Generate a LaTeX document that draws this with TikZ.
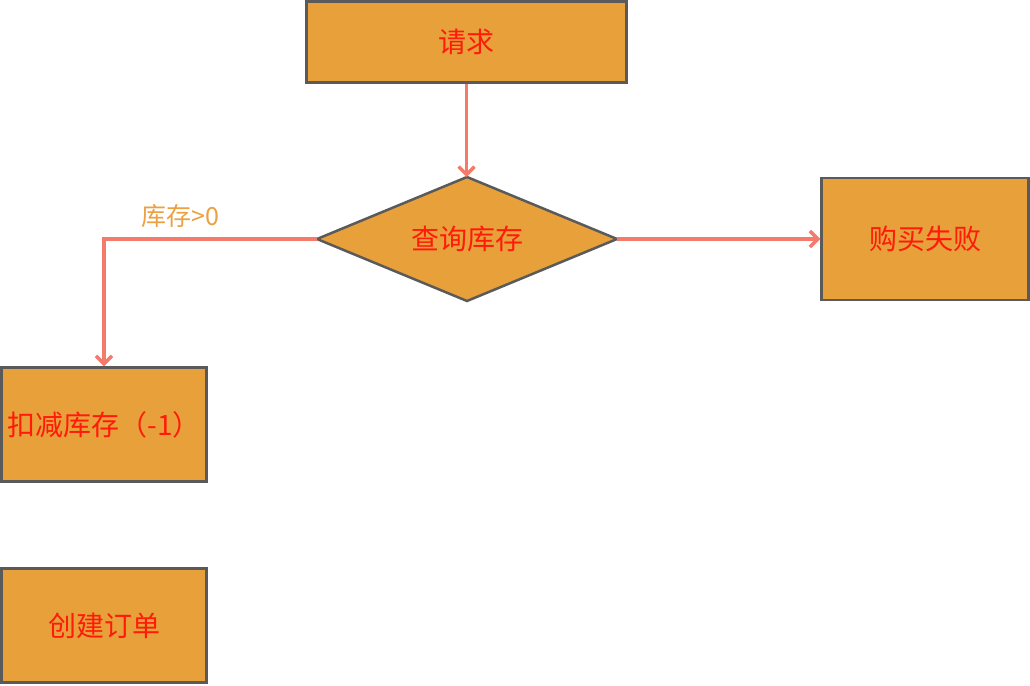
\documentclass[tikz,border=0pt]{standalone}
\usepackage{fontspec}
\newfontfamily\cjk{Noto Sans CJK SC}
\usetikzlibrary{arrows.meta,shapes.geometric}
\definecolor{boxfill}{HTML}{E8A03A}
\definecolor{boxline}{HTML}{5A5A5A}
\definecolor{arrowc}{HTML}{F47B6C}
\definecolor{txtred}{HTML}{FF1A0A}
\definecolor{lbl}{HTML}{EBA042}
\tikzset{
  pbox/.style={draw=boxline, line width=2.5pt, fill=boxfill, text=txtred, inner sep=0pt, font=\cjk\fontsize{28}{32}\selectfont},
  conn/.style={draw=arrowc, line width=3.5pt, -{Straight Barb[length=8pt,width=16pt,line width=3.5pt]}},
}
\begin{document}
\begin{tikzpicture}[x=1pt,y=-1pt]
\useasboundingbox (0,0) rectangle (1030,685);
\node[pbox, minimum width=320pt, minimum height=81pt] (req) at (466.5,42) {请求};
\node[pbox, minimum width=207pt, minimum height=122pt] (fail) at (925,239) {购买失败};
\node[pbox, minimum width=205pt, minimum height=114pt] (dec) at (104,424.5) {扣减库存（-1）};
\node[pbox, minimum width=205pt, minimum height=114pt] (ord) at (104,625.5) {创建订单};
\draw[draw=boxline, line width=2.5pt, fill=boxfill] (317,239) -- (467,177) -- (617,239) -- (467,301) -- cycle;
\node[text=txtred, font=\cjk\fontsize{28}{32}\selectfont] (chk) at (467,239) {查询库存};
\coordinate (chkL) at (317,239);
\coordinate (chkR) at (617,239);
\coordinate (chkT) at (466.5,177);
\coordinate (bend) at (104,239);
\draw[conn] (req.south) -- (chkT);
\draw[conn] (chkL) -- (bend) -- (dec.north);
\draw[conn] (chkR) -- (fail.west);
\node[text=lbl, font=\cjk\fontsize{25}{29}\selectfont] (lab) at (180,216) {库存>0};
\end{tikzpicture}
\end{document}
